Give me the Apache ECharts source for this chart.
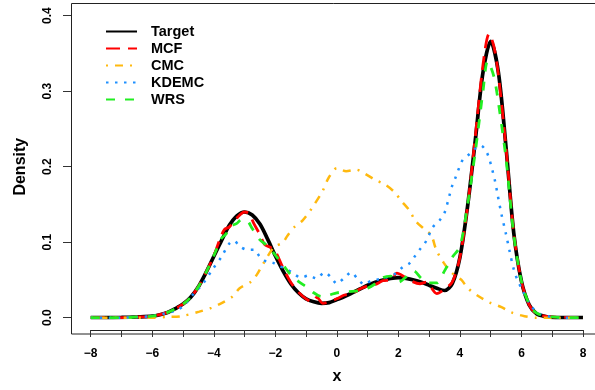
<!DOCTYPE html>
<html>
<head>
<meta charset="utf-8">
<script src="https://cdn.jsdelivr.net/npm/echarts@6/dist/echarts.min.js"></script>
<style>
html,body{margin:0;padding:0;background:#fff;}
#chart{width:595px;height:390px;}
</style>
</head>
<body>
<div id="chart"></div>
<script>
var seriesNames = ['Target', 'MCF', 'CMC', 'KDEMC', 'WRS'];
var xTicks = [-8, -6, -4, -2, 0, 2, 4, 6, 8];
var yTicks = [0, 0.1, 0.2, 0.3, 0.4];

var targetX = [-8,-7.5,-7,-6.5,-6,-5.75,-5.5,-5.25,-5,-4.75,-4.5,-4.25,-4,-3.75,-3.5,-3.25,-3,-2.75,-2.5,-2.25,-2,-1.75,-1.5,-1.25,-1,-0.75,-0.5,-0.25,0,0.25,0.5,0.75,1,1.25,1.5,1.75,2,2.25,2.5,2.75,3,3.25,3.5,3.75,4,4.25,4.5,4.75,5,5.25,5.5,5.75,6,6.25,6.5,6.75,7,7.5,8];
var targetY = [0,0,0.0003,0.001,0.002,0.004,0.007,0.012,0.018,0.027,0.041,0.060,0.081,0.102,0.122,0.135,0.140,0.136,0.124,0.104,0.082,0.062,0.045,0.033,0.025,0.021,0.019,0.020,0.024,0.028,0.033,0.038,0.043,0.047,0.050,0.052,0.053,0.052,0.050,0.047,0.043,0.039,0.036,0.045,0.080,0.148,0.235,0.325,0.366,0.325,0.225,0.112,0.048,0.017,0.005,0.002,0.0005,0,0];

var mcfX = [-8,-7,-6.5,-6,-5.5,-5,-4.75,-4.5,-4.25,-4,-3.8,-3.65,-3.5,-3.25,-3,-2.85,-2.7,-2.5,-2.35,-2.15,-2,-1.75,-1.5,-1.25,-1,-0.8,-0.65,-0.45,-0.25,0,0.25,0.5,0.75,1,1.25,1.5,1.75,1.95,2.2,2.45,2.7,2.9,3.25,3.5,3.75,4,4.25,4.5,4.75,4.95,5.1,5.25,5.5,5.75,6,6.25,6.5,7,8];
var mcfY = [0,0,0.001,0.002,0.007,0.018,0.027,0.041,0.060,0.082,0.104,0.117,0.120,0.132,0.140,0.138,0.125,0.110,0.097,0.093,0.088,0.066,0.047,0.034,0.025,0.021,0.027,0.019,0.021,0.025,0.030,0.032,0.038,0.042,0.044,0.049,0.050,0.059,0.054,0.048,0.045,0.047,0.032,0.038,0.047,0.080,0.148,0.240,0.335,0.376,0.360,0.322,0.224,0.112,0.048,0.017,0.005,0.001,0];

var cmcX = [-8,-6,-5.5,-5.06,-4.47,-4.08,-3.76,-3.39,-3.16,-2.78,-2.6,-2.4,-2.03,-1.77,-1.6,-1.38,-1.11,-0.83,-0.46,-0.27,0,0.3,0.63,0.9,1.23,1.58,1.88,2.09,2.36,2.56,2.85,3.07,3.23,3.47,3.72,4.05,4.26,4.62,4.97,5.35,5.67,6.1,6.48,8];
var cmcY = [0,0,0.001,0.002,0.008,0.013,0.019,0.028,0.039,0.048,0.057,0.071,0.094,0.099,0.109,0.120,0.129,0.144,0.168,0.185,0.198,0.194,0.196,0.191,0.183,0.176,0.166,0.155,0.142,0.128,0.117,0.109,0.090,0.073,0.060,0.050,0.039,0.028,0.020,0.014,0.007,0.002,0,0];

var kdemcX = [-8,-7,-6.5,-6,-5.66,-5.34,-5,-4.63,-4.37,-4.04,-3.76,-3.5,-3.35,-3.14,-2.9,-2.68,-2.51,-2.28,-2.09,-1.86,-1.65,-1.43,-1.16,-0.92,-0.66,-0.4,-0.18,0,0.22,0.47,0.68,0.9,1.12,1.39,1.65,1.93,2.14,2.36,2.53,2.69,2.85,2.99,3.12,3.34,3.5,3.66,3.75,3.86,3.96,4.09,4.32,4.5,4.68,4.86,4.97,5.05,5.13,5.24,5.35,5.49,5.62,5.75,5.85,6,6.14,6.32,6.59,7,7.5,8];
var kdemcY = [0,0,0.001,0.002,0.005,0.008,0.015,0.033,0.044,0.064,0.080,0.098,0.102,0.094,0.090,0.090,0.081,0.074,0.073,0.068,0.065,0.059,0.053,0.056,0.052,0.060,0.053,0.045,0.052,0.060,0.051,0.044,0.049,0.051,0.054,0.059,0.067,0.072,0.081,0.090,0.098,0.109,0.120,0.129,0.139,0.162,0.175,0.186,0.197,0.209,0.217,0.224,0.228,0.220,0.208,0.196,0.183,0.160,0.137,0.112,0.087,0.064,0.052,0.039,0.028,0.015,0.005,0.001,0,0];

var wrsX = [-8,-7,-6.5,-6,-5.5,-5,-4.75,-4.5,-4.25,-4,-3.75,-3.6,-3.5,-3.25,-3.1,-2.9,-2.75,-2.5,-2.25,-2,-1.75,-1.5,-1.25,-1,-0.75,-0.5,-0.25,0,0.25,0.5,0.75,1,1.25,1.5,1.75,2,2.25,2.5,2.75,3,3.25,3.5,3.75,4,4.25,4.5,4.75,4.9,5.1,5.25,5.5,5.75,6,6.25,6.5,7,8];
var wrsY = [0,0,0.001,0.002,0.007,0.018,0.027,0.041,0.060,0.082,0.105,0.111,0.120,0.125,0.130,0.128,0.118,0.103,0.095,0.083,0.070,0.057,0.048,0.041,0.033,0.028,0.030,0.033,0.034,0.035,0.036,0.039,0.045,0.053,0.055,0.047,0.054,0.062,0.052,0.046,0.046,0.062,0.080,0.094,0.150,0.220,0.300,0.340,0.320,0.285,0.210,0.110,0.048,0.018,0.006,0.001,0];

function pairs(xs, ys) { return xs.map(function (x, i) { return [x, ys[i]]; }); }

var chart = echarts.init(document.getElementById('chart'), null, {renderer: 'canvas'});
var bold = {fontFamily: 'Liberation Sans, Arial, sans-serif', fontWeight: 'bold', color: '#000'};

var option = {
  animation: false,
  backgroundColor: '#fff',
  grid: {left: 90.7, right: 12, top: 15.7, bottom: 68.3, show: false},
  graphic: [{
    type: 'rect', z: 0,
    shape: {x: 71.5, y: 3.5, width: 540, height: 330.5},
    style: {fill: 'none', stroke: '#222', lineWidth: 1}
  }],
  legend: {
    data: seriesNames,
    orient: 'vertical',
    left: 105, top: 24,
    padding: 0,
    itemWidth: 31, itemHeight: 14, itemGap: 2,
    itemStyle: {opacity: 0, borderWidth: 0},
    textStyle: Object.assign({fontSize: 14.5, padding: [0, 0, 0, 9]}, bold)
  },
  xAxis: {
    type: 'value', min: -8, max: 8, interval: 1,
    offset: 12.3,
    name: 'x', nameLocation: 'middle', nameGap: 39,
    nameTextStyle: Object.assign({fontSize: 16}, bold),
    axisLine: {show: true, onZero: false, lineStyle: {color: '#222', width: 1}},
    axisTick: {show: true, length: 7, lineStyle: {color: '#333'}},
    axisLabel: Object.assign({
      fontSize: 12, margin: 18,
      formatter: function (v) {
        if (xTicks.indexOf(v) < 0) return '';
        return v < 0 ? '\u2212' + Math.abs(v) : String(v);
      }
    }, bold),
    splitLine: {show: false}
  },
  yAxis: {
    type: 'value', min: 0, max: 0.4, interval: 0.1,
    offset: 19.7,
    name: 'Density', nameLocation: 'middle', nameGap: 42,
    nameTextStyle: Object.assign({fontSize: 16}, bold),
    axisLine: {show: true, onZero: false, lineStyle: {color: '#222', width: 1}},
    axisTick: {show: true, length: 8, lineStyle: {color: '#333'}},
    axisLabel: Object.assign({
      fontSize: 12, margin: 17, rotate: 90,
      formatter: function (v) {
        for (var i = 0; i < yTicks.length; i++) {
          if (Math.abs(yTicks[i] - v) < 1e-9) return yTicks[i].toFixed(1);
        }
        return '';
      }
    }, bold),
    splitLine: {show: false}
  },
  series: [
    {name: 'Target', type: 'line', data: pairs(targetX, targetY), symbol: 'none', smooth: 0.3, z: 2,
     lineStyle: {color: '#000', width: 3.7}, itemStyle: {color: '#000'}},
    {name: 'MCF', type: 'line', data: pairs(mcfX, mcfY), symbol: 'none', smooth: 0.3, z: 3,
     lineStyle: {color: '#FF0000', width: 2.8, type: [14, 8]}, itemStyle: {color: '#FF0000'}},
    {name: 'CMC', type: 'line', data: pairs(cmcX, cmcY), symbol: 'none', smooth: 0.3, z: 4,
     lineStyle: {color: '#FFB90F', width: 2.5, type: [2, 7, 8, 7]}, itemStyle: {color: '#FFB90F'}},
    {name: 'KDEMC', type: 'line', data: pairs(kdemcX, kdemcY), symbol: 'none', smooth: 0.3, z: 5,
     lineStyle: {color: '#1E90FF', width: 2.5, type: [2.5, 6.5]}, itemStyle: {color: '#1E90FF'}},
    {name: 'WRS', type: 'line', data: pairs(wrsX, wrsY), symbol: 'none', smooth: 0.3, z: 6,
     lineStyle: {color: '#22EE22', width: 2.8, type: [9, 10]}, itemStyle: {color: '#22EE22'}}
  ]
};
chart.setOption(option);
</script>
</body>
</html>
